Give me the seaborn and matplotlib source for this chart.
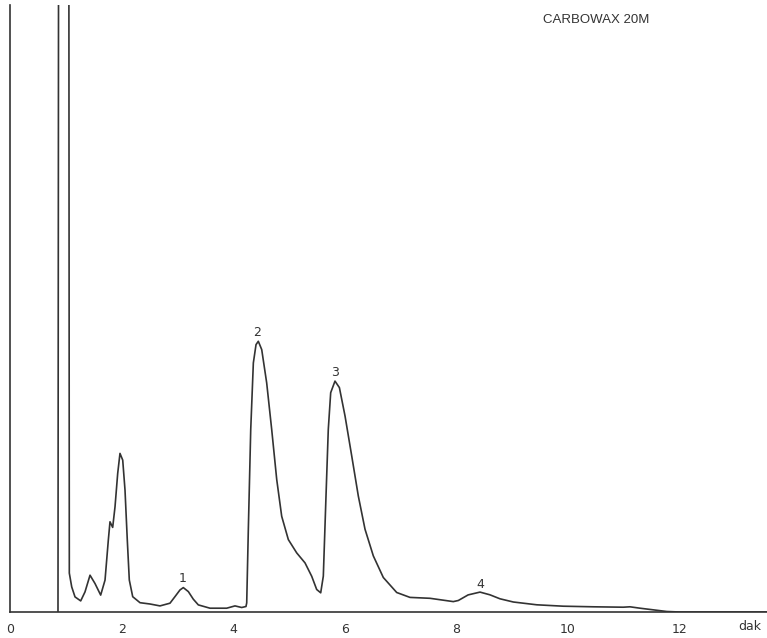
import matplotlib
matplotlib.use("Agg")
import matplotlib.pyplot as plt
import seaborn as sns
import pandas as pd

# Retention time (min) and detector signal (arbitrary units)
time_min = [0.86, 0.87, 1.055, 1.063, 1.106, 1.165, 1.267, 1.344, 1.434, 1.523, 1.625,
            1.703, 1.762, 1.792, 1.840, 1.882, 1.930, 1.971, 2.020, 2.061, 2.102, 2.138,
            2.199, 2.330, 2.509, 2.688, 2.867, 2.957, 3.047, 3.106, 3.196, 3.285, 3.375,
            3.584, 3.883, 4.032, 4.152, 4.229, 4.242, 4.271, 4.314, 4.361, 4.409, 4.450,
            4.511, 4.600, 4.690, 4.780, 4.869, 4.988, 5.138, 5.287, 5.407, 5.496, 5.568,
            5.615, 5.663, 5.704, 5.747, 5.824, 5.903, 6.004, 6.124, 6.242, 6.362, 6.511,
            6.690, 6.930, 7.168, 7.527, 7.944, 8.034, 8.21, 8.423, 8.60, 8.781, 9.020,
            9.44, 9.916, 10.45, 10.99, 11.11, 11.29, 11.77, 12.0, 13.57]
signal = [0, 650, 650, 38.9, 25.1, 15.1, 11.1, 20.1, 36.8, 28.5, 16.9,
          31.9, 71.9, 90.2, 84.6, 105.2, 138.6, 158.6, 151.9, 121.9, 72.0, 32.0,
          15.3, 9.3, 8.0, 6.1, 8.8, 15.4, 22.1, 24.4, 20.4, 12.8, 7.1,
          3.8, 3.8, 6.1, 4.5, 5.5, 9.1, 82.4, 182.4, 249.1, 267.4, 270.7,
          262.4, 229.1, 182.4, 132.4, 95.7, 72.4, 59.1, 49.1, 35.7, 22.5, 19.2,
          35.9, 115.9, 182.6, 219.3, 230.9, 224.4, 196.0, 156.0, 116.0, 82.8, 56.1,
          34.5, 19.5, 14.6, 13.7, 10.4, 11.5, 17.1, 19.9, 17.2, 13.2, 10.0,
          7.2, 5.8, 5.2, 4.8, 5.2, 3.8, 0.5, 0.0, 0.0]

peak_labels = ["1", "2", "3", "4"]
peak_label_t = [3.10, 4.43, 5.82, 8.43]
peak_label_h = [33, 280, 240, 27]

tick_values = list(range(0, 14))
tick_labels = [str(v) if v % 2 == 0 else "" for v in tick_values]

sns.set_style("white")
plt.rcParams["font.family"] = ["DejaVu Sans"]

ink = "#333333"
fig = plt.figure(figsize=(7.67, 6.38), dpi=100)
ax = fig.add_axes([10 / 767, 26 / 638, 757 / 767, 607 / 638])

df = pd.DataFrame({"t": time_min, "s": signal})
sns.lineplot(data=df, x="t", y="s", ax=ax, estimator=None, sort=False,
             color=ink, linewidth=1.2, solid_joinstyle="round")

ax.set_xlim(0, 13.566)
ax.set_ylim(0, 607)
ax.set_xlabel("")
ax.set_ylabel("")
ax.set_yticks([])
ax.set_xticks(tick_values)
ax.set_xticklabels(tick_labels)
ax.tick_params(axis="x", direction="out", length=3, width=1, color=ink,
               labelsize=9, labelcolor=ink, pad=5)
for side in ["top", "right"]:
    ax.spines[side].set_visible(False)
for side in ["left", "bottom"]:
    ax.spines[side].set_visible(True)
    ax.spines[side].set_color(ink)
    ax.spines[side].set_linewidth(1.2)

for lab, t, h in zip(peak_labels, peak_label_t, peak_label_h):
    ax.text(t, h, lab, ha="center", va="center", fontsize=9, color=ink)

ax.text(13.26, -14, "dak", ha="center", va="center", fontsize=9, color=ink,
        clip_on=False)
fig.text(543 / 767, 1 - 20 / 638, "CARBOWAX 20M", ha="left", va="center",
         fontsize=9.5, color=ink, family=["Liberation Sans", "DejaVu Sans"])

fig.savefig("out.png", dpi=100, facecolor="white")
